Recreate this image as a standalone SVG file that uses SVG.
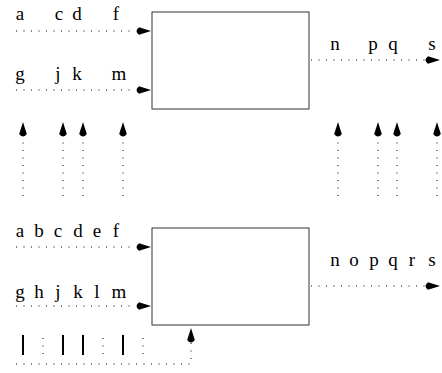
<svg xmlns="http://www.w3.org/2000/svg" width="442" height="373" viewBox="0 0 442 373">
  <style>
    .box { fill: #fff; stroke: #333; stroke-width: 1; }
    .dot { fill: none; stroke: #000; stroke-width: 1; stroke-dasharray: 1 6.5; }
    .bar { stroke: #000; stroke-width: 2; }
    .lbl { font-family: "Liberation Serif", "Times New Roman", serif; font-size: 19px; fill: #000; text-anchor: middle; }
  </style>
  <defs>
    <!-- teardrop arrowheads, tip at origin -->
    <path id="hr" d="M0,0 L-12,-3.8 Q-17,0 -12,3.8 Z"/>
    <path id="hu" d="M0,0 L-3.8,12 Q0,17 3.8,12 Z"/>
  </defs>

  <!-- upper block -->
  <g id="box-top">
    <rect class="box" x="152" y="12" width="157" height="97"/>
  </g>
  <g id="in-top-1">
    <text class="lbl" x="20" y="20">a</text>
    <text class="lbl" x="59" y="20">c</text>
    <text class="lbl" x="77" y="20">d</text>
    <text class="lbl" x="116" y="20">f</text>
  </g>
  <g id="in-top-2">
    <text class="lbl" x="20" y="80">g</text>
    <text class="lbl" x="58" y="80">j</text>
    <text class="lbl" x="77" y="80">k</text>
    <text class="lbl" x="119" y="80">m</text>
  </g>
  <g id="out-top">
    <text class="lbl" x="335" y="50">n</text>
    <text class="lbl" x="373" y="50">p</text>
    <text class="lbl" x="393" y="50">q</text>
    <text class="lbl" x="432" y="50">s</text>
  </g>

  <!-- lower block -->
  <g id="box-bottom">
    <rect class="box" x="152" y="228" width="157" height="97"/>
  </g>
  <g id="in-bottom-1">
    <text class="lbl" x="20" y="237">a</text>
    <text class="lbl" x="39" y="237">b</text>
    <text class="lbl" x="58" y="237">c</text>
    <text class="lbl" x="78" y="237">d</text>
    <text class="lbl" x="97" y="237">e</text>
    <text class="lbl" x="116" y="237">f</text>
  </g>
  <g id="in-bottom-2">
    <text class="lbl" x="20" y="298">g</text>
    <text class="lbl" x="39" y="298">h</text>
    <text class="lbl" x="58" y="298">j</text>
    <text class="lbl" x="78" y="298">k</text>
    <text class="lbl" x="97" y="298">l</text>
    <text class="lbl" x="119" y="298">m</text>
  </g>
  <g id="out-bottom">
    <text class="lbl" x="335" y="266">n</text>
    <text class="lbl" x="354" y="266">o</text>
    <text class="lbl" x="374" y="266">p</text>
    <text class="lbl" x="393" y="266">q</text>
    <text class="lbl" x="412" y="266">r</text>
    <text class="lbl" x="432" y="266">s</text>
  </g>
  <g id="ticks">
    <line class="bar" x1="23" y1="335" x2="23" y2="355"/>
    <line class="bar" x1="63" y1="335" x2="63" y2="355"/>
    <line class="bar" x1="83" y1="335" x2="83" y2="355"/>
    <line class="bar" x1="123" y1="335" x2="123" y2="355"/>
    <line class="dot" x1="43" y1="338" x2="43" y2="356"/>
    <line class="dot" x1="103" y1="338" x2="103" y2="356"/>
    <line class="dot" x1="143" y1="338" x2="143" y2="356"/>
  </g>

  <g id="connectors">
    <!-- upper block inputs / output -->
    <line class="dot" x1="16" y1="31" x2="136" y2="31"/>
    <use href="#hr" x="151" y="31"/>
    <line class="dot" x1="16" y1="90" x2="136" y2="90"/>
    <use href="#hr" x="151" y="90"/>
    <line class="dot" x1="311" y1="60" x2="426" y2="60"/>
    <use href="#hr" x="440" y="60"/>

    <!-- vertical links between the blocks -->
    <line class="dot" x1="23" y1="196" x2="23" y2="137"/>
    <use href="#hu" x="23" y="122"/>
    <line class="dot" x1="63" y1="196" x2="63" y2="137"/>
    <use href="#hu" x="63" y="122"/>
    <line class="dot" x1="83" y1="196" x2="83" y2="137"/>
    <use href="#hu" x="83" y="122"/>
    <line class="dot" x1="123" y1="196" x2="123" y2="137"/>
    <use href="#hu" x="123" y="122"/>
    <line class="dot" x1="338" y1="196" x2="338" y2="137"/>
    <use href="#hu" x="338" y="122"/>
    <line class="dot" x1="378" y1="196" x2="378" y2="137"/>
    <use href="#hu" x="378" y="122"/>
    <line class="dot" x1="397" y1="196" x2="397" y2="137"/>
    <use href="#hu" x="397" y="122"/>
    <line class="dot" x1="437" y1="196" x2="437" y2="137"/>
    <use href="#hu" x="437" y="122"/>

    <!-- lower block inputs / output -->
    <line class="dot" x1="16" y1="247" x2="136" y2="247"/>
    <use href="#hr" x="151" y="247"/>
    <line class="dot" x1="16" y1="306" x2="136" y2="306"/>
    <use href="#hr" x="151" y="306"/>
    <line class="dot" x1="311" y1="286" x2="426" y2="286"/>
    <use href="#hr" x="440" y="286"/>

    <!-- bottom feed into the lower block -->
    <polyline class="dot" points="16,364 191,364 191,343"/>
    <use href="#hu" x="191" y="328"/>
  </g>
</svg>
